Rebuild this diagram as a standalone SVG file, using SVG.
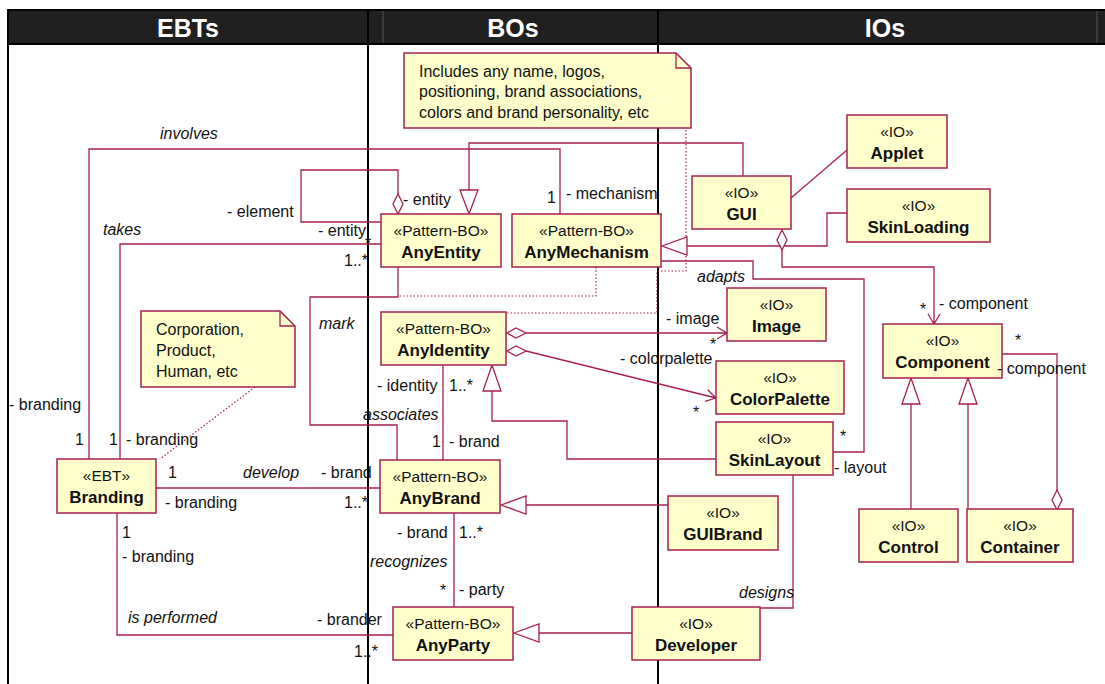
<svg xmlns="http://www.w3.org/2000/svg" width="1105" height="684" viewBox="0 0 1105 684">
<style>
text{font-family:"Liberation Sans",Arial,sans-serif;fill:#111}
.hdr{font-size:25px;font-weight:bold;fill:#fff;text-anchor:middle}
.st{font-size:15.5px;text-anchor:middle}
.nm{font-size:17px;font-weight:bold;text-anchor:middle}
.lb{font-size:16px}
.it{font-size:16px;font-style:italic}
.nt{font-size:16px}
.box{fill:#ffffcc;stroke:#a8204f;stroke-width:1.5}
.ln{fill:none;stroke:#a8204f;stroke-width:1.3}
.dot{fill:none;stroke:#a8204f;stroke-width:1.2;stroke-dasharray:1.5 2}
.tri{fill:#fff;stroke:#a8204f;stroke-width:1.3}
.col{stroke:#000;stroke-width:2}
</style>
<rect width="1105" height="684" fill="#fff"/>
<g id="lanes">
<rect x="7" y="10" width="1100" height="34" fill="#202020"/>
<line x1="383" y1="10" x2="383" y2="44" stroke="#555" stroke-width="1"/>
<line x1="1097" y1="10" x2="1097" y2="44" stroke="#555" stroke-width="1"/>
<line class="col" x1="8" y1="10" x2="8" y2="684"/>
<line class="col" x1="368" y1="10" x2="368" y2="684"/>
<line class="col" x1="658" y1="10" x2="658" y2="684"/>
<line x1="7" y1="10" x2="1105" y2="10" stroke="#000" stroke-width="2"/>
<line x1="7" y1="44" x2="1105" y2="44" stroke="#000" stroke-width="2"/>
<text class="hdr" x="188" y="37">EBTs</text>
<text class="hdr" x="513" y="37">BOs</text>
<text class="hdr" x="885" y="37">IOs</text>
</g>
<g id="connectors">
<path class="ln" d="M89,459 V149 H560 V214"/>
<path class="ln" d="M743,176 V143 H469 V190"/>
<path class="tri" d="M460,190 L478,190 L469,214 Z"/>
<path class="ln" d="M120,459 V244 H381"/>
<path class="ln" d="M381,222 H301 V170 H398 V194"/>
<path class="tri" d="M398,194 L403,204 L398,214 L393,204 Z"/>
<path class="ln" d="M398,267 V297 H310 V425 H397 V460"/>
<path class="dot" d="M596,267 V296 H398"/>
<path class="dot" d="M507,313 H657 V271 H686 V128"/>
<path class="dot" d="M255,387 L160,459"/>
<path class="ln" d="M847,213 H827 V246 H687"/>
<path class="tri" d="M662,246 L687,237 L687,255 Z"/>
<path class="ln" d="M661,261 H753 V279 H864 V452 H833"/>
<path class="ln" d="M791,198 L847,150"/>
<path class="tri" d="M782,230 L787,240 L782,250 L777,240 Z"/>
<path class="ln" d="M782,250 V267 H934 V324 M928,314 L934,324 L940,314"/>
<path class="tri" d="M507,333 L516,328 L526,333 L516,338 Z"/>
<path class="ln" d="M526,333 H727 M717,327 L727,333 L717,339"/>
<path class="tri" d="M507,351 L516,346 L526,351 L516,356 Z"/>
<path class="ln" d="M526,351 L716,398 M707.7,389.8 L716,398 L704.9,401.4"/>
<path class="ln" d="M443,365 V460"/>
<path class="tri" d="M492,365 L483,391 L501,391 Z"/>
<path class="ln" d="M492,391 V421 H567 V459 H716"/>
<path class="tri" d="M501,505 L526,496 L526,514 Z"/>
<path class="ln" d="M526,505 H668"/>
<path class="tri" d="M514,633 L539,624 L539,642 Z"/>
<path class="ln" d="M539,633 H632"/>
<path class="ln" d="M793,475 V608 H760"/>
<path class="ln" d="M156,488 H380"/>
<path class="ln" d="M454,513 V607"/>
<path class="ln" d="M117,513 V635 H393"/>
<path class="tri" d="M911,378 L902,404 L920,404 Z"/>
<path class="ln" d="M911,404 V509"/>
<path class="tri" d="M968,378 L959,404 L977,404 Z"/>
<path class="ln" d="M968,404 V509"/>
<path class="ln" d="M1002,354 H1057 V490"/>
<path class="tri" d="M1057,490 L1062,500 L1057,510 L1052,500 Z"/>
</g>
<g id="note1">
<path class="box" d="M404,53 H676 L691,68 V128 H404 Z"/>
<path class="ln" d="M676,53 V68 H691"/>
<text class="nt" x="419" y="77">Includes any name, logos,</text>
<text class="nt" x="419" y="97">positioning, brand associations,</text>
<text class="nt" x="419" y="118">colors and brand personality, etc</text>
</g>
<g id="note2">
<path class="box" d="M141,311 H280 L295,326 V387 H141 Z"/>
<path class="ln" d="M280,311 V326 H295"/>
<text class="nt" x="156" y="335">Corporation,</text>
<text class="nt" x="156" y="356">Product,</text>
<text class="nt" x="156" y="377">Human, etc</text>
</g>
<g id="AnyEntity"><rect class="box" x="381" y="214" width="120" height="53"/><text class="st" x="441" y="236">«Pattern-BO»</text><text class="nm" x="441" y="258">AnyEntity</text></g>
<g id="AnyMechanism"><rect class="box" x="512" y="214" width="149" height="53"/><text class="st" x="586.5" y="236">«Pattern-BO»</text><text class="nm" x="586.5" y="258">AnyMechanism</text></g>
<g id="AnyIdentity"><rect class="box" x="381" y="312" width="125" height="53"/><text class="st" x="443.5" y="334">«Pattern-BO»</text><text class="nm" x="443.5" y="356">AnyIdentity</text></g>
<g id="AnyBrand"><rect class="box" x="380" y="460" width="120" height="53"/><text class="st" x="440" y="482">«Pattern-BO»</text><text class="nm" x="440" y="504">AnyBrand</text></g>
<g id="AnyParty"><rect class="box" x="393" y="607" width="120" height="53"/><text class="st" x="453" y="629">«Pattern-BO»</text><text class="nm" x="453" y="651">AnyParty</text></g>
<g id="Branding"><rect class="box" x="57" y="459" width="99" height="54"/><text class="st" x="106.5" y="481">«EBT»</text><text class="nm" x="106.5" y="503">Branding</text></g>
<g id="GUI"><rect class="box" x="692" y="176" width="99" height="53"/><text class="st" x="741.5" y="198">«IO»</text><text class="nm" x="741.5" y="220">GUI</text></g>
<g id="Applet"><rect class="box" x="847" y="115" width="100" height="53"/><text class="st" x="897" y="137">«IO»</text><text class="nm" x="897" y="159">Applet</text></g>
<g id="SkinLoading"><rect class="box" x="847" y="189" width="143" height="53"/><text class="st" x="918.5" y="211">«IO»</text><text class="nm" x="918.5" y="233">SkinLoading</text></g>
<g id="Image"><rect class="box" x="727" y="288" width="99" height="53"/><text class="st" x="776.5" y="310">«IO»</text><text class="nm" x="776.5" y="332">Image</text></g>
<g id="ColorPalette"><rect class="box" x="716" y="361" width="128" height="53"/><text class="st" x="780" y="383">«IO»</text><text class="nm" x="780" y="405">ColorPalette</text></g>
<g id="SkinLayout"><rect class="box" x="716" y="422" width="117" height="53"/><text class="st" x="774.5" y="444">«IO»</text><text class="nm" x="774.5" y="466">SkinLayout</text></g>
<g id="Component"><rect class="box" x="883" y="324" width="119" height="54"/><text class="st" x="942.5" y="346">«IO»</text><text class="nm" x="942.5" y="368">Component</text></g>
<g id="Control"><rect class="box" x="859" y="509" width="99" height="53"/><text class="st" x="908.5" y="531">«IO»</text><text class="nm" x="908.5" y="553">Control</text></g>
<g id="Container"><rect class="box" x="967" y="509" width="106" height="53"/><text class="st" x="1020" y="531">«IO»</text><text class="nm" x="1020" y="553">Container</text></g>
<g id="GUIBrand"><rect class="box" x="668" y="496" width="110" height="54"/><text class="st" x="723" y="518">«IO»</text><text class="nm" x="723" y="540">GUIBrand</text></g>
<g id="Developer"><rect class="box" x="632" y="607" width="128" height="53"/><text class="st" x="696" y="629">«IO»</text><text class="nm" x="696" y="651">Developer</text></g>
<g id="labels">
<text class="it" x="160" y="139">involves</text>
<text class="lb" x="9" y="410">- branding</text>
<text class="lb" x="75" y="445">1</text>
<text class="it" x="103" y="235">takes</text>
<text class="lb" x="109" y="445">1</text>
<text class="lb" x="126" y="445">- branding</text>
<text class="lb" x="227" y="217">- element</text>
<text class="lb" x="403" y="205">- entity</text>
<text class="lb" x="318" y="236">- entity</text>
<text class="lb" x="365" y="249">*</text>
<text class="lb" x="344" y="266">1..*</text>
<text class="lb" x="547" y="203">1</text>
<text class="lb" x="566" y="199">- mechanism</text>
<text class="it" x="319" y="329">mark</text>
<text class="it" x="363" y="420">associates</text>
<text class="lb" x="377" y="391">- identity</text>
<text class="lb" x="449" y="391">1..*</text>
<text class="lb" x="432" y="447">1</text>
<text class="lb" x="449" y="447">- brand</text>
<text class="lb" x="666" y="324">- image</text>
<text class="lb" x="710" y="350">*</text>
<text class="lb" x="620" y="364">- colorpalette</text>
<text class="lb" x="693" y="418">*</text>
<text class="it" x="697" y="282">adapts</text>
<text class="lb" x="840" y="442">*</text>
<text class="lb" x="834" y="473">- layout</text>
<text class="lb" x="920" y="315">*</text>
<text class="lb" x="939" y="309">- component</text>
<text class="lb" x="1015" y="346">*</text>
<text class="lb" x="997" y="374">- component</text>
<text class="lb" x="168" y="478">1</text>
<text class="it" x="243" y="478">develop</text>
<text class="lb" x="321" y="478">- brand</text>
<text class="lb" x="165" y="508">- branding</text>
<text class="lb" x="344" y="508">1..*</text>
<text class="lb" x="397" y="538">- brand</text>
<text class="lb" x="459" y="538">1..*</text>
<text class="it" x="370" y="567">recognizes</text>
<text class="lb" x="440" y="596">*</text>
<text class="lb" x="459" y="595">- party</text>
<text class="lb" x="122" y="538">1</text>
<text class="lb" x="122" y="562">- branding</text>
<text class="it" x="128" y="623">is performed</text>
<text class="lb" x="317" y="625">- brander</text>
<text class="lb" x="354" y="657">1..*</text>
<text class="it" x="739" y="598">designs</text>
</g>
</svg>
